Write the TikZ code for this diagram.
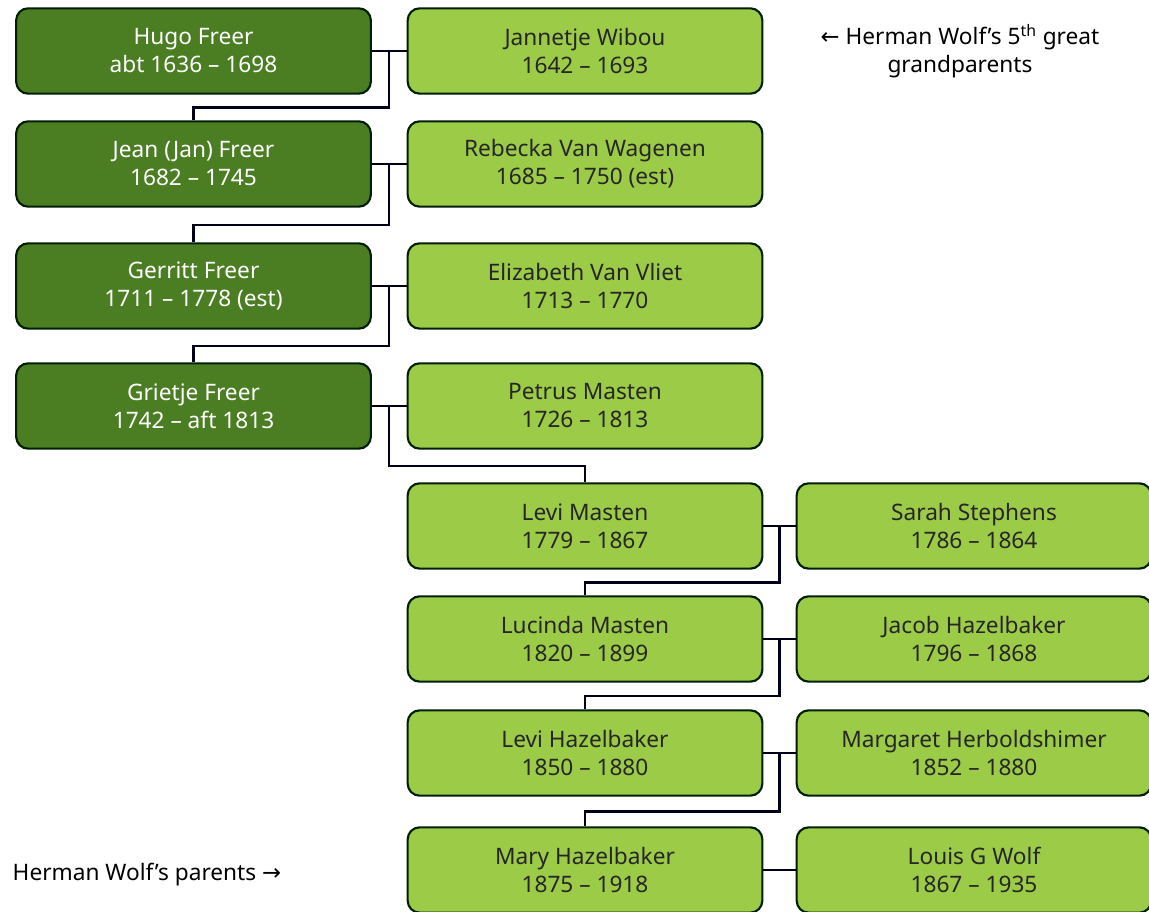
\documentclass[tikz,border=0pt]{standalone}
\usepackage{fontspec}
\setmainfont{Noto Sans}
\newfontfamily\sym{DejaVu Sans}
\usetikzlibrary{calc}
\begin{document}
\begin{tikzpicture}[x=0.75pt,y=-0.75pt,
  box/.style={draw=black!80!green!60!black,line width=1.6pt,rounded corners=9pt,minimum width=266pt,minimum height=64pt,align=center,font=\fontsize{17}{21}\selectfont,inner sep=0pt},
  dark/.style={box,fill=dgreen,text=white},
  light/.style={box,fill=lgreen,text=black!85},
  link/.style={draw=black!75!blue!40!black,line width=1.6pt}]
\definecolor{dgreen}{HTML}{4B7D23}
\definecolor{lgreen}{HTML}{9CCB48}
\useasboundingbox (0,0) rectangle (1149,912);
\node[dark]  (hugo)   at (193.5,51)  {Hugo Freer\\abt 1636 -- 1698};
\node[light] (jann)   at (585,51)    {Jannetje Wibou\\1642 -- 1693};
\node[dark]  (jean)   at (193.5,164) {Jean (Jan) Freer\\1682 -- 1745};
\node[light] (rebe)   at (585,164)   {Rebecka Van Wagenen\\1685 -- 1750 (est)};
\node[dark]  (gerr)   at (193.5,286) {Gerritt Freer\\1711 -- 1778 (est)};
\node[light] (eliz)   at (585,286)   {Elizabeth Van Vliet\\1713 -- 1770};
\node[dark]  (grie)   at (193.5,406) {Grietje Freer\\1742 -- aft 1813};
\node[light] (petr)   at (585,406)   {Petrus Masten\\1726 -- 1813};
\node[light] (levi)   at (585,526)   {Levi Masten\\1779 -- 1867};
\node[light] (sara)   at (974,526)   {Sarah Stephens\\1786 -- 1864};
\node[light] (lucy)   at (585,639)   {Lucinda Masten\\1820 -- 1899};
\node[light] (jaco)   at (974,639)   {Jacob Hazelbaker\\1796 -- 1868};
\node[light] (levh)   at (585,753)   {Levi Hazelbaker\\1850 -- 1880};
\node[light] (marg)   at (974,753)   {Margaret Herboldshimer\\1852 -- 1880};
\node[light] (mary)   at (585,870)   {Mary Hazelbaker\\1875 -- 1918};
\node[light] (loui)   at (974,870)   {Louis G Wolf\\1867 -- 1935};
\node[font=\fontsize{17}{21}\selectfont,align=center] (n5) at (960,51) {{\sym ←} Herman Wolf’s 5\textsuperscript{th} great\\grandparents};
\node[font=\fontsize{17}{21}\selectfont,anchor=west] (np) at (8,875) {Herman Wolf’s parents {\sym →}};
\foreach \a/\b in {hugo/jann,jean/rebe,gerr/eliz,grie/petr,levi/sara,lucy/jaco,levh/marg,mary/loui}
  \draw[link] (\a.east) -- (\b.west);
\foreach \a/\b/\c in {hugo/jann/jean,jean/rebe/gerr,gerr/eliz/grie,grie/petr/levi,levi/sara/lucy,lucy/jaco/levh,levh/marg/mary}
  \draw[link] ($(\a.east)!.5!(\b.west)$) coordinate (m) -- (m |- {$(\a.south)!.5!(\c.north)$}) -| (\c.north);
\end{tikzpicture}
\end{document}
